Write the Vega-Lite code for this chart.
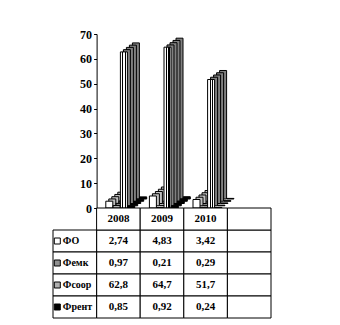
{
  "$schema": "https://vega.github.io/schema/vega-lite/v6.json",
  "padding": {"left": 52, "top": 28, "right": 0, "bottom": 0},
  "bounds": "flush",
  "spacing": 0,
  "background": "white",
  "config": {
    "view": {"stroke": null},
    "font": "Liberation Serif",
    "locale": {"number": {"decimal": ",", "thousands": " ", "grouping": [3], "currency": ["", ""]}}
  },
  "datasets": {
    "bars": [
      {"year": "2008", "series": "ФО", "value": 2.74},
      {"year": "2009", "series": "ФО", "value": 4.83},
      {"year": "2010", "series": "ФО", "value": 3.42},
      {"year": "2008", "series": "Фемк", "value": 0.97},
      {"year": "2009", "series": "Фемк", "value": 0.21},
      {"year": "2010", "series": "Фемк", "value": 0.29},
      {"year": "2008", "series": "Фсоор", "value": 62.8},
      {"year": "2009", "series": "Фсоор", "value": 64.7},
      {"year": "2010", "series": "Фсоор", "value": 51.7},
      {"year": "2008", "series": "Френт", "value": 0.85},
      {"year": "2009", "series": "Френт", "value": 0.92},
      {"year": "2010", "series": "Френт", "value": 0.24}
    ],
    "series": [
      {"series": "ФО"},
      {"series": "Фемк"},
      {"series": "Фсоор"},
      {"series": "Френт"}
    ]
  },
  "vconcat": [
    {
      "width": 218,
      "height": 174,
      "data": {"name": "bars"},
      "encoding": {
        "x": {"field": "year", "type": "nominal", "scale": {"domain": ["lab", "2008", "2009", "2010", "end"], "paddingInner": 0, "paddingOuter": 0}, "axis": null},
        "y": {"field": "value", "type": "quantitative", "scale": {"domain": [0, 70], "nice": false},
          "axis": {"values": [0, 10, 20, 30, 40, 50, 60, 70], "offset": -43.6, "tickSize": 3, "tickColor": "black", "domainColor": "black", "labelColor": "black", "labelFont": "Liberation Serif", "labelFontSize": 12, "labelFontWeight": "bold", "grid": false, "title": null, "labelPadding": 2}}
      },
      "layer": [
        {"transform": [{"filter": "datum.series === 'ФО'"}], "mark": {"type": "bar", "width": 7, "xOffset": 2.9, "yOffset": -9, "fill": "#c0c0c0", "stroke": "black", "strokeWidth": 1, "clip": false}},
        {"transform": [{"filter": "datum.series === 'ФО'"}], "mark": {"type": "bar", "width": 7, "xOffset": -0.1, "yOffset": -6.75, "fill": "#c0c0c0", "stroke": "black", "strokeWidth": 1, "clip": false}},
        {"transform": [{"filter": "datum.series === 'ФО'"}], "mark": {"type": "bar", "width": 7, "xOffset": -3.1, "yOffset": -4.5, "fill": "#c0c0c0", "stroke": "black", "strokeWidth": 1, "clip": false}},
        {"transform": [{"filter": "datum.series === 'ФО'"}], "mark": {"type": "bar", "width": 7, "xOffset": -6.1, "yOffset": -2.25, "fill": "#c0c0c0", "stroke": "black", "strokeWidth": 1, "clip": false}},
        {"transform": [{"filter": "datum.series === 'ФО'"}], "mark": {"type": "bar", "width": 7, "xOffset": -9.1, "fill": "white", "stroke": "black", "strokeWidth": 1, "clip": false}},

        {"transform": [{"filter": "datum.series === 'Фемк'"}], "mark": {"type": "bar", "width": 7, "xOffset": 10.2, "yOffset": -9, "fill": "#808080", "stroke": "black", "strokeWidth": 1, "clip": false}},
        {"transform": [{"filter": "datum.series === 'Фемк'"}], "mark": {"type": "bar", "width": 7, "xOffset": 7.2, "yOffset": -6.75, "fill": "#808080", "stroke": "black", "strokeWidth": 1, "clip": false}},
        {"transform": [{"filter": "datum.series === 'Фемк'"}], "mark": {"type": "bar", "width": 7, "xOffset": 4.2, "yOffset": -4.5, "fill": "#808080", "stroke": "black", "strokeWidth": 1, "clip": false}},
        {"transform": [{"filter": "datum.series === 'Фемк'"}], "mark": {"type": "bar", "width": 7, "xOffset": 1.2, "yOffset": -2.25, "fill": "#808080", "stroke": "black", "strokeWidth": 1, "clip": false}},
        {"transform": [{"filter": "datum.series === 'Фемк'"}], "mark": {"type": "bar", "width": 7, "xOffset": -1.8, "fill": "#c0c0c0", "stroke": "black", "strokeWidth": 1, "clip": false}},

        {"transform": [{"filter": "datum.series === 'Фсоор'"}], "mark": {"type": "bar", "width": 7, "xOffset": 17.5, "yOffset": -9, "fill": "#808080", "stroke": "black", "strokeWidth": 1, "clip": false}},
        {"transform": [{"filter": "datum.series === 'Фсоор'"}], "mark": {"type": "bar", "width": 7, "xOffset": 14.5, "yOffset": -6.75, "fill": "#808080", "stroke": "black", "strokeWidth": 1, "clip": false}},
        {"transform": [{"filter": "datum.series === 'Фсоор'"}], "mark": {"type": "bar", "width": 7, "xOffset": 11.5, "yOffset": -4.5, "fill": "#808080", "stroke": "black", "strokeWidth": 1, "clip": false}},
        {"transform": [{"filter": "datum.series === 'Фсоор'"}], "mark": {"type": "bar", "width": 7, "xOffset": 8.5, "yOffset": -2.25, "fill": "#808080", "stroke": "black", "strokeWidth": 1, "clip": false}},
        {"transform": [{"filter": "datum.series === 'Фсоор'"}], "mark": {"type": "bar", "width": 7, "xOffset": 5.5, "stroke": "black", "strokeWidth": 1, "clip": false,
          "fill": {"gradient": "linear", "x1": 0, "x2": 1, "y1": 0, "y2": 0, "stops": [
            {"offset": 0, "color": "white"}, {"offset": 0.28, "color": "white"}, {"offset": 0.28, "color": "black"}, {"offset": 0.43, "color": "black"},
            {"offset": 0.43, "color": "white"}, {"offset": 0.64, "color": "white"}, {"offset": 0.64, "color": "black"}, {"offset": 0.79, "color": "black"},
            {"offset": 0.79, "color": "white"}, {"offset": 1, "color": "white"}]}}},

        {"transform": [{"filter": "datum.series === 'Френт'"}], "mark": {"type": "bar", "width": 7, "xOffset": 24.8, "yOffset": -9, "fill": "black", "stroke": "black", "strokeWidth": 1, "clip": false}},
        {"transform": [{"filter": "datum.series === 'Френт'"}], "mark": {"type": "bar", "width": 7, "xOffset": 21.8, "yOffset": -6.75, "fill": "black", "stroke": "black", "strokeWidth": 1, "clip": false}},
        {"transform": [{"filter": "datum.series === 'Френт'"}], "mark": {"type": "bar", "width": 7, "xOffset": 18.8, "yOffset": -4.5, "fill": "black", "stroke": "black", "strokeWidth": 1, "clip": false}},
        {"transform": [{"filter": "datum.series === 'Френт'"}], "mark": {"type": "bar", "width": 7, "xOffset": 15.8, "yOffset": -2.25, "fill": "black", "stroke": "black", "strokeWidth": 1, "clip": false}},
        {"transform": [{"filter": "datum.series === 'Френт'"}], "mark": {"type": "bar", "width": 7, "xOffset": 12.8, "fill": "black", "stroke": "black", "strokeWidth": 1, "clip": false}}
      ]
    },
    {
      "width": 218,
      "height": 110,
      "layer": [
        {
          "data": {"name": "bars"},
          "mark": {"type": "rect", "fill": "white", "stroke": "black", "strokeWidth": 1},
          "encoding": {
            "x": {"field": "year", "type": "nominal", "scale": {"domain": ["lab", "2008", "2009", "2010", "end"], "paddingInner": 0, "paddingOuter": 0}, "axis": null},
            "y": {"field": "series", "type": "nominal", "scale": {"domain": ["hdr", "ФО", "Фемк", "Фсоор", "Френт"], "paddingInner": 0, "paddingOuter": 0}, "axis": null}
          }
        },
        {
          "data": {"name": "bars"},
          "transform": [{"filter": "datum.series === 'ФО'"}],
          "mark": {"type": "rect", "fill": "white", "stroke": "black", "strokeWidth": 1},
          "encoding": {
            "x": {"field": "year", "type": "nominal", "scale": {"domain": ["lab", "2008", "2009", "2010", "end"], "paddingInner": 0, "paddingOuter": 0}, "axis": null},
            "y": {"datum": "hdr", "type": "nominal", "scale": {"domain": ["hdr", "ФО", "Фемк", "Фсоор", "Френт"], "paddingInner": 0, "paddingOuter": 0}, "axis": null}
          }
        },
        {
          "data": {"name": "series"},
          "mark": {"type": "rect", "fill": "white", "stroke": "black", "strokeWidth": 1},
          "encoding": {
            "x": {"datum": "lab", "type": "nominal", "scale": {"domain": ["lab", "2008", "2009", "2010", "end"], "paddingInner": 0, "paddingOuter": 0}, "axis": null},
            "y": {"field": "series", "type": "nominal", "scale": {"domain": ["hdr", "ФО", "Фемк", "Фсоор", "Френт"], "paddingInner": 0, "paddingOuter": 0}, "axis": null}
          }
        },
        {
          "data": {"name": "series"},
          "mark": {"type": "rect", "fill": "white", "stroke": "black", "strokeWidth": 1},
          "encoding": {
            "x": {"datum": "end", "type": "nominal", "scale": {"domain": ["lab", "2008", "2009", "2010", "end"], "paddingInner": 0, "paddingOuter": 0}, "axis": null},
            "y": {"field": "series", "type": "nominal", "scale": {"domain": ["hdr", "ФО", "Фемк", "Фсоор", "Френт"], "paddingInner": 0, "paddingOuter": 0}, "axis": null}
          }
        },
        {
          "data": {"name": "series"},
          "transform": [{"filter": "datum.series === 'ФО'"}],
          "mark": {"type": "rect", "fill": "white", "stroke": "black", "strokeWidth": 1},
          "encoding": {
            "x": {"datum": "end", "type": "nominal", "scale": {"domain": ["lab", "2008", "2009", "2010", "end"], "paddingInner": 0, "paddingOuter": 0}, "axis": null},
            "y": {"datum": "hdr", "type": "nominal", "scale": {"domain": ["hdr", "ФО", "Фемк", "Фсоор", "Френт"], "paddingInner": 0, "paddingOuter": 0}, "axis": null}
          }
        },
        {
          "data": {"name": "bars"},
          "mark": {"type": "text", "font": "Liberation Serif", "fontWeight": "bold", "fontSize": 11, "color": "black", "align": "center", "baseline": "middle"},
          "encoding": {
            "x": {"field": "year", "type": "nominal", "scale": {"domain": ["lab", "2008", "2009", "2010", "end"], "paddingInner": 0, "paddingOuter": 0}, "axis": null},
            "y": {"field": "series", "type": "nominal", "scale": {"domain": ["hdr", "ФО", "Фемк", "Фсоор", "Френт"], "paddingInner": 0, "paddingOuter": 0}, "axis": null},
            "text": {"field": "value", "type": "quantitative", "format": ".3~r"}
          }
        },
        {
          "data": {"name": "bars"},
          "transform": [{"filter": "datum.series === 'ФО'"}],
          "mark": {"type": "text", "font": "Liberation Serif", "fontWeight": "bold", "fontSize": 11, "color": "black", "align": "center", "baseline": "middle"},
          "encoding": {
            "x": {"field": "year", "type": "nominal", "scale": {"domain": ["lab", "2008", "2009", "2010", "end"], "paddingInner": 0, "paddingOuter": 0}, "axis": null},
            "y": {"datum": "hdr", "type": "nominal", "scale": {"domain": ["hdr", "ФО", "Фемк", "Фсоор", "Френт"], "paddingInner": 0, "paddingOuter": 0}, "axis": null},
            "text": {"field": "year", "type": "nominal"}
          }
        },
        {
          "data": {"name": "series"},
          "mark": {"type": "point", "shape": "square", "size": 36, "filled": true, "stroke": "black", "strokeWidth": 1, "opacity": 1, "xOffset": -17.5},
          "encoding": {
            "x": {"datum": "lab", "type": "nominal", "scale": {"domain": ["lab", "2008", "2009", "2010", "end"], "paddingInner": 0, "paddingOuter": 0}, "axis": null},
            "y": {"field": "series", "type": "nominal", "scale": {"domain": ["hdr", "ФО", "Фемк", "Фсоор", "Френт"], "paddingInner": 0, "paddingOuter": 0}, "axis": null},
            "fill": {"field": "series", "type": "nominal", "scale": {"domain": ["ФО", "Фемк", "Фсоор", "Френт"], "range": ["white", "#909090", "#b0b0b0", "black"]}, "legend": null}
          }
        },
        {
          "data": {"name": "series"},
          "mark": {"type": "text", "font": "Liberation Serif", "fontWeight": "bold", "fontSize": 10, "color": "black", "align": "left", "baseline": "middle", "dx": -12},
          "encoding": {
            "x": {"datum": "lab", "type": "nominal", "scale": {"domain": ["lab", "2008", "2009", "2010", "end"], "paddingInner": 0, "paddingOuter": 0}, "axis": null},
            "y": {"field": "series", "type": "nominal", "scale": {"domain": ["hdr", "ФО", "Фемк", "Фсоор", "Френт"], "paddingInner": 0, "paddingOuter": 0}, "axis": null},
            "text": {"field": "series", "type": "nominal"}
          }
        }
      ]
    }
  ]
}
